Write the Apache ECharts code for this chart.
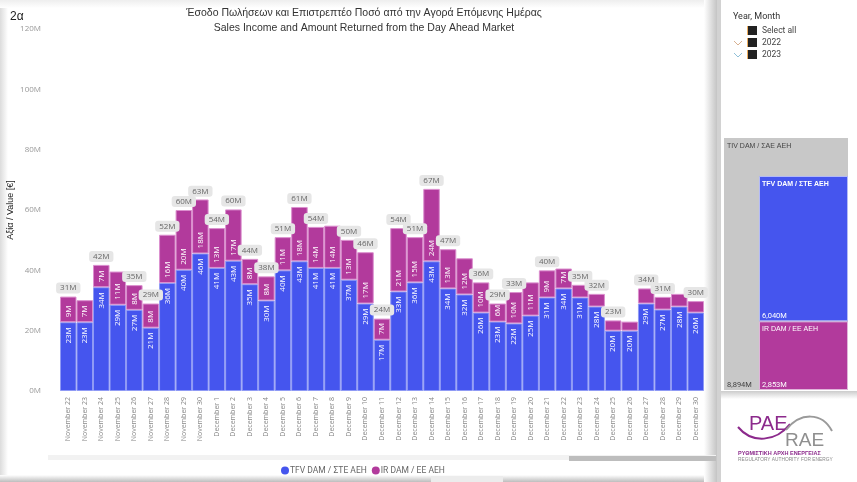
<!DOCTYPE html>
<html><head><meta charset="utf-8">
<style>html,body{margin:0;padding:0;background:#fff}#c{width:857px;height:482px}</style>
<script src="https://cdn.jsdelivr.net/npm/echarts@6/dist/echarts.min.js"></script>
</head><body><div id="c"></div>
<script>
const categories=["November 22","November 23","November 24","November 25","November 26","November 27","November 28","November 29","November 30","December 1","December 2","December 3","December 4","December 5","December 6","December 7","December 8","December 9","December 10","December 11","December 12","December 13","December 14","December 15","December 16","December 17","December 18","December 19","December 20","December 21","December 22","December 23","December 24","December 25","December 26","December 27","December 28","December 29","December 30"];
const tfvValues=[22.8,22.8,34.4,28.6,26.9,21,35.8,40.2,45.6,40.8,43.2,35.4,30,40,43,40.8,40.8,36.9,29,17,33,36,43,34,32,26,23,22.4,25,31,34,31,28,20,20,29,27,28,26];
const irValues=[8.5,7.3,7.4,11,8.2,8,16,19.8,17.9,13.2,17,8.4,8,11,18,13.6,14,13.2,17,7,21,15,24,13,12,10,6,10.4,11,9,6.6,4.2,4.2,3.4,3,5,4.2,4.2,3.8];
const totalLabels=[31.3,null,41.8,null,35.1,29,51.8,60,63.4,54,60.2,43.8,38,51,61,54.4,null,50.1,46,24,54,51,67,47,null,36,29,32.8,null,40,null,35.2,32.2,23.4,null,34,31.2,null,29.8];
const sumName="TIV DAM / ΣΑΕ ΑΕΗ", tfvName="TFV DAM / ΣΤΕ ΑΕΗ", irName="IR DAM / ΕΕ ΑΕΗ";
const sumTotal=8894, tfvTotal=6040, irTotal=2853;
const blue="#4555EE", purple="#B23A9C";
const F="'Open Sans',sans-serif", R="Roboto,sans-serif", A="'Liberation Sans',Arial,sans-serif";
const chart=echarts.init(document.getElementById('c'),null,{renderer:'canvas'});
const fmt=n=>n.toLocaleString('en-US')+'M';
const segLabel=(pos,align,min)=>({show:true,position:pos,rotate:90,align:align,verticalAlign:'middle',distance:5,color:'#fff',fontSize:8,fontFamily:F,
  formatter:p=>p.value<min?'':Math.round(p.value)+'M'});
const shade=(x,y,w,h,x2,y2,c1,c2)=>({type:'rect',silent:true,z:-1,shape:{x,y,width:w,height:h},style:{fill:new echarts.graphic.LinearGradient(0,0,x2,y2,[{offset:0,color:c1},{offset:1,color:c2}])}});
const txt=(x,y,t,o)=>({type:'text',silent:true,z:50,x,y,style:Object.assign({text:t,fontFamily:R,fontSize:9,fill:'#444',textVerticalAlign:'middle'},o||{})});
const square=(x,y)=>[{type:'rect',silent:true,z:50,shape:{x:x-1,y,width:1,height:9},style:{fill:'#f0b060'}},{type:'rect',silent:true,z:50,shape:{x,y,width:9,height:9},style:{fill:'#222'}}];
const chev=(x,y,c)=>({type:'polyline',silent:true,z:50,shape:{points:[[x,y],[x+4,y+4],[x+8,y]]},style:{stroke:c,fill:null,lineWidth:1}});
const curve=(x1,y1,cx1,cy1,cx2,cy2,x2,y2,c)=>({type:'bezierCurve',silent:true,z:50,shape:{x1,y1,cpx1:cx1,cpy1:cy1,cpx2:cx2,cpy2:cy2,x2,y2},style:{fill:null,stroke:c,lineWidth:2}});
chart.setOption({
  animation:false,
  backgroundColor:'#fff',
  title:{text:"Έσοδο Πωλήσεων και Επιστρεπτέο Ποσό από την Αγορά Επόμενης Ημέρας\nSales Income and Amount Returned from the Day Ahead Market",
    left:359,top:1,textAlign:'center',textStyle:{fontFamily:A,fontSize:10.5,fontWeight:'normal',color:'#333',lineHeight:15}},
  legend:{data:[tfvName,irName],left:276,top:461,icon:'circle',itemWidth:8,itemHeight:8,itemGap:5,itemStyle:{borderWidth:0},textStyle:{fontFamily:R,fontSize:8.5,color:'#666',padding:[0,0,0,-4]},selectedMode:false},
  grid:[
    {left:60,right:153,top:29,height:362,outerBoundsMode:'none'},
    {left:759,top:176,width:89,height:214,outerBoundsMode:'none'},
    {left:724,top:138,width:124,height:252,outerBoundsMode:'none'}
  ],
  xAxis:[
    {type:'category',data:categories,gridIndex:0,axisTick:{show:false},axisLine:{show:false},
      axisLabel:{rotate:90,interval:0,fontSize:7,fontFamily:F,color:'#888',margin:6,align:'right',verticalAlign:'middle'}},
    {type:'category',data:[''],gridIndex:1,show:false},
    {type:'category',data:[''],gridIndex:2,show:false}
  ],
  yAxis:[
    {type:'value',gridIndex:0,min:0,max:120,interval:20,splitLine:{show:false},axisLine:{show:false},axisTick:{show:false},
      axisLabel:{fontSize:8,fontFamily:F,color:'#999',margin:19,formatter:v=>v+'M'},
      name:"Αξία / Value [€]",nameLocation:'middle',nameGap:45,nameRotate:90,nameMoveOverlap:false,nameTextStyle:{fontFamily:A,fontSize:9,color:'#222'}},
    {type:'value',gridIndex:1,min:0,max:8893,show:false,splitLine:{show:false}},
    {type:'value',gridIndex:2,min:0,max:sumTotal,show:false,splitLine:{show:false}}
  ],
  series:[
    {name:tfvName,type:'bar',stack:'a',barWidth:'100%',data:tfvValues,itemStyle:{color:blue,borderColor:'#8F9AF5',borderWidth:1},label:segLabel('insideTop','right',0)},
    {name:irName,type:'bar',stack:'a',barWidth:'100%',data:irValues,itemStyle:{color:purple,borderColor:'#DB8FCE',borderWidth:1},label:segLabel('insideBottom','left',5.5)},
    {name:'Total',type:'line',data:totalLabels,connectNulls:false,symbol:'circle',symbolSize:0,showSymbol:true,showAllSymbol:true,lineStyle:{opacity:0},z:10,
      label:{show:true,position:'top',distance:3,color:'#666',fontSize:8,fontFamily:F,backgroundColor:'#E6E6E6',borderRadius:3,padding:[1.5,4,1.5,4],formatter:p=>Math.round(p.value)+'M'}},
    {name:sumName,type:'bar',xAxisIndex:2,yAxisIndex:2,barWidth:'100%',data:[sumTotal],z:1,itemStyle:{color:'#C8C8C8'}},
    {name:'irBox',type:'bar',xAxisIndex:1,yAxisIndex:1,stack:'b',barWidth:'100%',data:[irTotal],z:3,itemStyle:{color:purple,borderColor:'#E0B5DA',borderWidth:1}},
    {name:'tfvBox',type:'bar',xAxisIndex:1,yAxisIndex:1,stack:'b',barWidth:'100%',data:[tfvTotal],z:3,itemStyle:{color:blue,borderColor:'#B4BBF7',borderWidth:1}}
  ],
  graphic:[
    shade(0,0,8,482,1,0,'#dcdcdc','#ffffff'),
    shade(0,0,716,8,0,1,'#eeeeee','#ffffff'),
    shade(0,475,716,7,0,1,'#ffffff','#bdbdbd'),
    shade(704,0,13,482,1,0,'#ffffff','#c4c4c4'),
    {type:'rect',silent:true,z:-1,shape:{x:717,y:0,width:4,height:482},style:{fill:'#d2d2d2'}},
    shade(721,391,136,8,0,1,'#cccccc','#ffffff'),
    {type:'rect',silent:true,z:40,shape:{x:48,y:455,width:668,height:5},style:{fill:'#F2F2F2'}},
    {type:'rect',silent:true,z:41,shape:{x:569,y:456,width:147,height:5},style:{fill:'#BDBDBD'}},
    {type:'rect',silent:true,z:41,shape:{x:431,y:476,width:72,height:6},style:{fill:'#ececec'}},
    txt(10,17,'2α',{fontSize:12,fontFamily:A,fill:'#222'}),
    txt(733,17,'Year, Month',{fontSize:9,fill:'#333'}),
    ...square(748,26),txt(762,31,'Select all',{fontSize:8.5}),
    chev(734,41,'#d8b090'),...square(748,38),txt(762,43,'2022',{fontSize:8.5}),
    chev(734,53,'#90c0d8'),...square(748,50),txt(762,55,'2023',{fontSize:8.5}),
    txt(727,146,sumName,{fontSize:7,fontFamily:A,fill:'#444'}),
    txt(727,385,fmt(sumTotal),{fontSize:7.5,fill:'#444'}),
    txt(762,184,tfvName,{fontSize:7,fontFamily:A,fill:'#fff',fontWeight:'bold'}),
    txt(762,316,fmt(tfvTotal),{fontSize:7.5,fill:'#fff'}),
    txt(762,329,irName,{fontSize:7,fontFamily:A,fill:'#fff'}),
    txt(762,385,fmt(irTotal),{fontSize:7.5,fill:'#fff'}),
    txt(749,424,'PAE',{fontSize:20,fontFamily:A,fill:'#8C2A8C'}),
    txt(785,441,'RAE',{fontSize:19,fontFamily:A,fill:'#8f8f8f'}),
    curve(738,427,752,444,776,442,790,424,'#8C2A8C'),
    curve(786,430,800,412,822,412,832,431,'#9a9a9a'),
    txt(738,453,'ΡΥΘΜΙΣΤΙΚΗ ΑΡΧΗ ΕΝΕΡΓΕΙΑΣ',{fontSize:5.5,fontFamily:A,fill:'#8C2A8C',fontWeight:'bold'}),
    txt(738,460,'REGULATORY AUTHORITY FOR ENERGY',{fontSize:4.8,fontFamily:A,fill:'#888'})
  ]
});
</script></body></html>
